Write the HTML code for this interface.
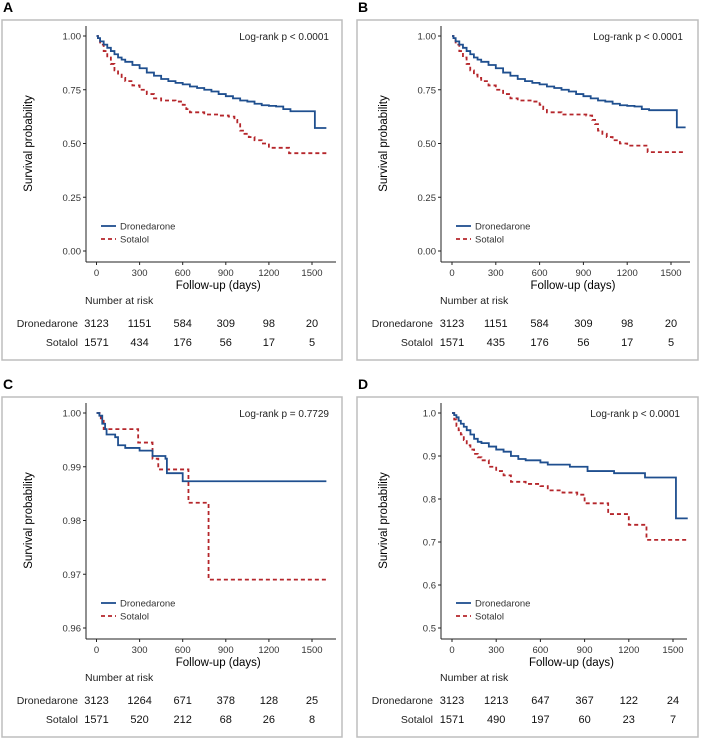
<!DOCTYPE html>
<html><head><meta charset="utf-8">
<style>
html,body{margin:0;padding:0;background:#fff;}
svg{display:block;font-family:"Liberation Sans",Arial,sans-serif;}
</style></head>
<body>
<svg id="fig" width="703" height="739" viewBox="0 0 703 739"></svg>
<script>
// ---- data ----
const tickDays = [0,300,600,900,1200,1500];
const aDron = [[0,1],[10,.99],[25,.975],[50,.96],[75,.945],[100,.93],[125,.915],[150,.90],[175,.89],[200,.88],[250,.865],[300,.85],[350,.83],[400,.815],[450,.80],[500,.79],[550,.782],[600,.775],[650,.765],[700,.758],[750,.75],[800,.742],[850,.73],[900,.72],[950,.71],[1000,.70],[1050,.695],[1100,.685],[1150,.678],[1200,.675],[1250,.672],[1300,.66],[1350,.65],[1520,.572],[1600,.572]];
const aSota = [[0,1],[10,.98],[25,.96],[50,.93],[75,.90],[100,.87],[125,.84],[150,.82],[175,.805],[200,.79],[250,.77],[300,.75],[350,.73],[400,.71],[450,.70],[550,.695],[600,.68],[625,.66],[650,.645],[750,.635],[850,.63],[920,.625],[960,.61],[980,.59],[1000,.56],[1030,.545],[1060,.53],[1100,.515],[1150,.50],[1200,.48],[1300,.48],[1340,.455],[1600,.455]];
const bDron = [[0,1],[10,.99],[25,.975],[50,.96],[75,.945],[100,.93],[125,.915],[150,.90],[175,.89],[200,.88],[250,.865],[300,.85],[350,.83],[400,.815],[450,.80],[500,.79],[550,.782],[600,.775],[650,.765],[700,.758],[750,.75],[800,.742],[850,.73],[900,.72],[950,.71],[1000,.70],[1050,.695],[1100,.685],[1150,.678],[1200,.675],[1250,.672],[1300,.66],[1350,.655],[1540,.575],[1600,.575]];
const bSota = [[0,1],[10,.98],[25,.96],[50,.93],[75,.90],[100,.87],[125,.84],[150,.82],[175,.805],[200,.79],[250,.77],[300,.75],[350,.73],[400,.71],[450,.70],[550,.695],[600,.68],[625,.66],[650,.645],[750,.635],[850,.635],[920,.63],[960,.61],[980,.59],[1000,.56],[1030,.545],[1060,.53],[1100,.515],[1150,.50],[1200,.49],[1300,.49],[1340,.46],[1600,.46]];
const cDron = [[0,1],[20,.9995],[40,.998],[60,.997],[70,.996],[130,.9955],[150,.994],[200,.9935],[300,.993],[390,.992],[480,.9915],[490,.9888],[600,.9873],[1600,.9873]];
const cSota = [[0,1],[30,.999],[50,.997],[290,.9945],[390,.9915],[430,.9895],[640,.9833],[780,.969],[1600,.969]];
const dDron = [[0,1],[15,.995],[30,.99],[45,.982],[60,.975],[80,.968],[100,.96],[125,.95],[150,.94],[175,.933],[200,.93],[250,.922],[300,.915],[350,.91],[400,.90],[450,.893],[500,.89],[600,.885],[650,.88],[800,.875],[920,.865],[1100,.86],[1310,.85],[1520,.755],[1600,.755]];
const dSota = [[0,1],[15,.985],[30,.97],[45,.96],[60,.95],[80,.937],[100,.925],[125,.915],[150,.905],[175,.897],[200,.89],[250,.875],[300,.865],[350,.855],[400,.84],[500,.835],[600,.83],[650,.82],[750,.815],[850,.81],[900,.79],[1060,.765],[1200,.74],[1320,.705],[1600,.705]];
const yTicksAB = [0,0.25,0.5,0.75,1.0];
const yLabelsAB = ["0.00","0.25","0.50","0.75","1.00"];
const yTicksC = [0.96,0.97,0.98,0.99,1.0];
const yLabelsC = ["0.96","0.97","0.98","0.99","1.00"];
const yTicksD = [0.5,0.6,0.7,0.8,0.9,1.0];
const yLabelsD = ["0.5","0.6","0.7","0.8","0.9","1.0"];
const riskA = [[3123,1151,584,309,98,20],[1571,434,176,56,17,5]];
const riskB = [[3123,1151,584,309,98,20],[1571,435,176,56,17,5]];
const riskC = [[3123,1264,671,378,128,25],[1571,520,212,68,26,8]];
const riskD = [[3123,1213,647,367,122,24],[1571,490,197,60,23,7]];
const pvals = ["Log-rank p < 0.0001","Log-rank p < 0.0001","Log-rank p = 0.7729","Log-rank p < 0.0001"];

const NS="http://www.w3.org/2000/svg";
const svg=document.getElementById('fig');
function mk(tag,attrs,parent,text){const e=document.createElementNS(NS,tag);for(const k in attrs)e.setAttribute(k,attrs[k]);if(text!==undefined)e.textContent=text;(parent||svg).appendChild(e);return e;}

function panel(o){
  const g=mk('g',{});
  
  
  const t=mk('text',{x:o.bx+1,y:o.by-8,'font-size':14,'font-weight':'bold',fill:'#000'},g,o.letter);
  
  
  const box=mk('rect',{x:o.bx,y:o.by,width:o.bw,height:340,fill:'none',stroke:'#bdbdbd','stroke-width':1.5},g);
  
  
  const xs=d=>o.x0+(o.x1500-o.x0)*d/1500;
  const ys=v=>o.yTop+(o.yMax-v)/(o.yMax-o.yMin)*(o.yBot-o.yTop);
  const axisY=o.yBot+11;
  const ya=mk('line',{x1:o.ax,y1:o.yTop-10,x2:o.ax,y2:axisY,stroke:'#222','stroke-width':1},g);
  
  
  const xa=mk('line',{x1:o.ax,y1:axisY,x2:o.pr,y2:axisY,stroke:'#222','stroke-width':1},g);
  
  
  o.yt.forEach((v,i)=>{
    const y=ys(v);
    mk('line',{x1:o.ax-3,y1:y,x2:o.ax,y2:y,stroke:'#222'},g);
    const l=mk('text',{x:o.ax-5,y:y+3.5,'font-size':9.5,'text-anchor':'end',fill:'#333'},g,o.yl[i]);
    
    
  });
  tickDays.forEach(d=>{
    const x=xs(d);
    mk('line',{x1:x,y1:axisY,x2:x,y2:axisY+3,stroke:'#222'},g);
    const l=mk('text',{x:x,y:axisY+14,'font-size':9.5,'text-anchor':'middle',fill:'#333'},g,String(d));
    
    
  });
  const xt=mk('text',{x:(o.x0+o.pr)/2+2,y:axisY+27,'font-size':11.5,'text-anchor':'middle',fill:'#000'},g,'Follow-up (days)');
  
  
  const cy=(o.yTop+o.yBot)/2;
  const yt=mk('text',{x:o.bx+30,y:cy,'font-size':11.5,'text-anchor':'middle',fill:'#000',transform:`rotate(-90 ${o.bx+30} ${cy})`},g,'Survival probability');
  
  
  const pv=mk('text',{x:o.pr-7,y:o.yTop+4,'font-size':10,'text-anchor':'end',fill:'#222'},g,o.p);
  
  
  function curve(data,color,dash,name){
    let d='M'+xs(data[0][0])+','+ys(data[0][1]);
    for(let i=1;i<data.length;i++){d+=' H'+xs(data[i][0])+' V'+ys(data[i][1]);}
    const p=mk('path',{d:d,fill:'none',stroke:color,'stroke-width':1.8,'stroke-dasharray':dash},g);
    
    
  }
  curve(o.sota,'#b5262b','4,3','sotalol-curve');
  curve(o.dron,'#1f4f8f','none','dronedarone-curve');
  const lg=mk('g',{},g);
  
  
  const ly=o.yBot-25;
  mk('line',{x1:o.ax+15,y1:ly,x2:o.ax+30,y2:ly,stroke:'#1f4f8f','stroke-width':1.8},lg);
  const l1=mk('text',{x:o.ax+34,y:ly+3.5,'font-size':9.5,fill:'#333'},lg,'Dronedarone');
  
  
  mk('line',{x1:o.ax+15,y1:ly+13,x2:o.ax+30,y2:ly+13,stroke:'#b5262b','stroke-width':1.8,'stroke-dasharray':'4,3'},lg);
  const l2=mk('text',{x:o.ax+34,y:ly+16.5,'font-size':9.5,fill:'#333'},lg,'Sotalol');
  
  
  const nr=mk('text',{x:o.ax-1,y:o.by+284,'font-size':10.5,fill:'#222'},g,'Number at risk');
  
  
  ['Dronedarone','Sotalol'].forEach((nm,r)=>{
    const yy=o.by+307+r*19;
    const rl=mk('text',{x:o.ax-8,y:yy,'font-size':10.5,'text-anchor':'end',fill:'#222'},g,nm);
    
    
    o.risk[r].forEach((n,i)=>{
      const c=mk('text',{x:xs(tickDays[i]),y:yy,'font-size':11,'text-anchor':'middle',fill:'#111'},g,String(n));
      
      
    });
  });
}
panel({letter:'A',bx:2,by:20,bw:340,ax:86,x0:96.5,x1500:312,pr:336,yTop:36,yBot:251,yMin:0,yMax:1,yt:yTicksAB,yl:yLabelsAB,dron:aDron,sota:aSota,risk:riskA,p:pvals[0]});
panel({letter:'B',bx:357,by:20,bw:341,ax:441,x0:452,x1500:671,pr:690,yTop:36,yBot:251,yMin:0,yMax:1,yt:yTicksAB,yl:yLabelsAB,dron:bDron,sota:bSota,risk:riskB,p:pvals[1]});
panel({letter:'C',bx:2,by:397,bw:340,ax:86,x0:96.5,x1500:312,pr:336,yTop:413,yBot:628,yMin:0.96,yMax:1,yt:yTicksC,yl:yLabelsC,dron:cDron,sota:cSota,risk:riskC,p:pvals[2]});
panel({letter:'D',bx:357,by:397,bw:341,ax:441,x0:452,x1500:673,pr:687,yTop:413,yBot:628,yMin:0.5,yMax:1,yt:yTicksD,yl:yLabelsD,dron:dDron,sota:dSota,risk:riskD,p:pvals[3]});
</script>
</body></html>
